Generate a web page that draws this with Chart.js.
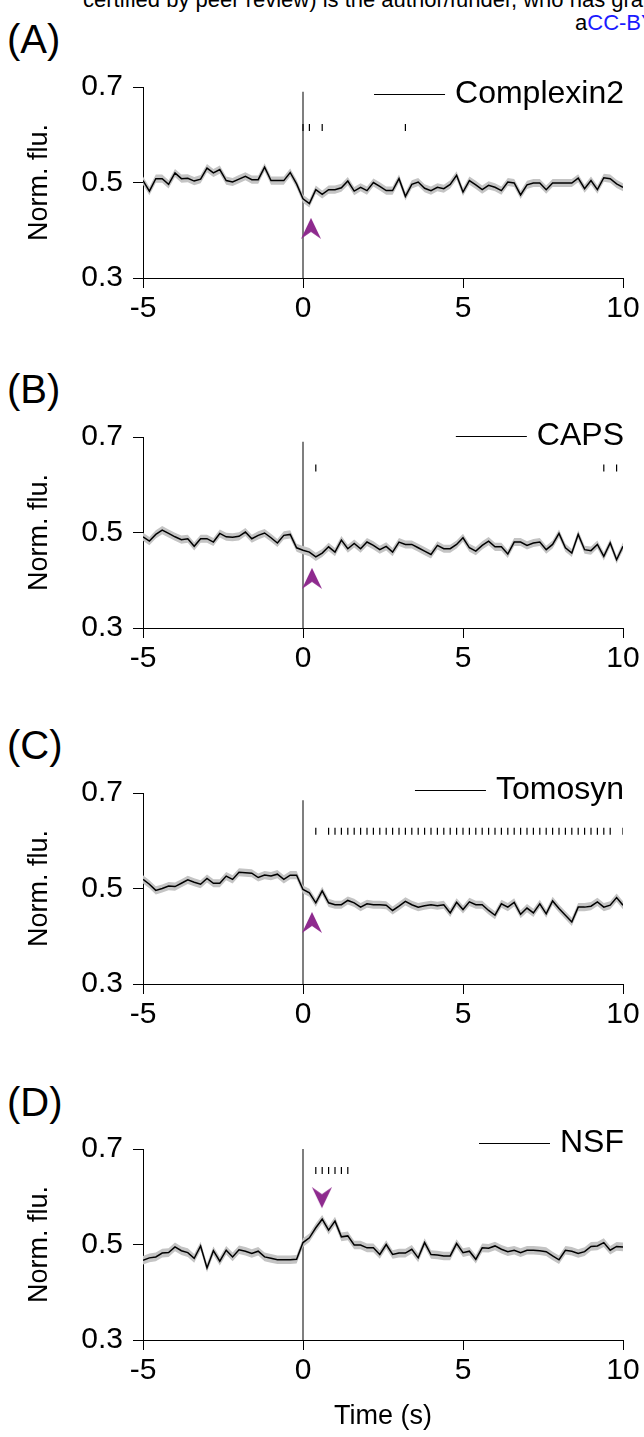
<!DOCTYPE html>
<html><head><meta charset="utf-8">
<script src="https://cdn.jsdelivr.net/npm/chart.js@4.4.0/dist/chart.umd.min.js"></script>
<style>
html,body{margin:0;padding:0;background:#fff;}
body{width:644px;height:1437px;overflow:hidden;position:relative;font-family:"Liberation Sans",Arial,sans-serif;color:#000;}
.plabel{position:absolute;left:7px;font-size:40px;line-height:40px;white-space:nowrap;}
.hdr{position:absolute;white-space:nowrap;font-size:22px;line-height:22px;}
canvas{position:absolute;left:0;}
</style></head>
<body>
<div class="hdr" style="left:83px;top:-11px;">certified by peer review) is the author/funder, who has granted bioRxiv a license</div>
<div class="hdr" style="left:575px;top:12px;">a<span style="color:#1a1aff">CC-BY 4.0 International license</span></div>
<div class="plabel" style="top:19px;">(A)</div>
<div class="plabel" style="top:369px;">(B)</div>
<div class="plabel" style="top:725px;">(C)</div>
<div class="plabel" style="top:1082px;">(D)</div>
<script>
// ---- data ----
const time = [-5,-4.8,-4.6,-4.4,-4.2,-4,-3.8,-3.6,-3.4,-3.2,-3,-2.8,-2.6,-2.4,-2.2,-2,-1.8,-1.6,-1.4,-1.2,-1,-0.8,-0.6,-0.4,-0.2,
0,0.2,0.4,0.6,0.8,1,1.2,1.4,1.6,1.8,2,2.2,2.4,2.6,2.8,3,3.2,3.4,3.6,3.8,4,4.2,4.4,4.6,4.8,5,5.2,5.4,5.6,5.8,6,6.2,6.4,6.6,6.8,7,7.2,7.4,7.6,7.8,8,8.2,8.4,8.6,8.8,9,9.2,9.4,9.6,9.8,10];

const xTicks = [-5, 0, 5, 10];
const yTicks = [0.3, 0.5, 0.7];

const meanComplexin2 = [0.504,0.482,0.508,0.508,0.496,0.520,0.508,0.509,0.503,0.507,0.530,0.520,0.527,0.504,0.501,0.507,0.513,0.506,0.506,0.532,0.504,0.504,0.504,0.521,0.497,
0.466,0.456,0.485,0.475,0.485,0.485,0.489,0.503,0.482,0.490,0.483,0.500,0.492,0.483,0.483,0.508,0.471,0.496,0.501,0.488,0.483,0.490,0.487,0.496,0.515,0.480,0.504,0.495,0.485,0.494,0.490,0.483,0.501,0.499,0.474,0.495,0.499,0.499,0.485,0.499,0.499,0.499,0.499,0.509,0.487,0.504,0.485,0.510,0.508,0.497,0.490];
const meanCAPS = [0.491,0.482,0.496,0.505,0.498,0.491,0.485,0.487,0.471,0.487,0.487,0.480,0.498,0.491,0.490,0.492,0.501,0.487,0.494,0.499,0.489,0.478,0.494,0.496,0.468,
0.463,0.459,0.449,0.457,0.470,0.459,0.484,0.466,0.477,0.466,0.480,0.473,0.464,0.471,0.459,0.480,0.475,0.475,0.468,0.461,0.454,0.473,0.466,0.466,0.475,0.489,0.468,0.461,0.473,0.482,0.470,0.470,0.455,0.480,0.480,0.473,0.478,0.480,0.464,0.475,0.498,0.468,0.457,0.496,0.464,0.462,0.475,0.450,0.478,0.443,0.471];
const meanTomosyn = [0.519,0.509,0.496,0.500,0.505,0.504,0.511,0.518,0.513,0.509,0.521,0.511,0.511,0.526,0.519,0.534,0.533,0.532,0.523,0.528,0.526,0.530,0.519,0.528,0.528,
0.498,0.491,0.470,0.495,0.470,0.466,0.466,0.475,0.470,0.461,0.468,0.466,0.466,0.465,0.454,0.463,0.473,0.466,0.461,0.464,0.466,0.464,0.466,0.449,0.471,0.456,0.472,0.466,0.466,0.454,0.444,0.468,0.461,0.471,0.446,0.459,0.449,0.468,0.447,0.474,0.458,0.444,0.430,0.461,0.461,0.463,0.472,0.461,0.465,0.481,0.465];
const meanNSF = [0.467,0.472,0.474,0.482,0.483,0.495,0.487,0.483,0.471,0.497,0.451,0.487,0.465,0.488,0.474,0.489,0.486,0.481,0.486,0.474,0.471,0.468,0.468,0.468,0.469,
0.504,0.514,0.535,0.553,0.530,0.549,0.516,0.518,0.499,0.499,0.493,0.493,0.479,0.500,0.479,0.482,0.482,0.490,0.472,0.504,0.479,0.478,0.476,0.476,0.502,0.483,0.486,0.469,0.493,0.492,0.497,0.490,0.485,0.488,0.483,0.488,0.488,0.487,0.485,0.476,0.468,0.488,0.486,0.481,0.485,0.496,0.497,0.504,0.488,0.496,0.495];

const semComplexin2 = 0.0085, semCAPS = 0.0085, semTomosyn = 0.0085, semNSF = 0.009;

const sigComplexin2 = [0, 0.2, 0.6, 3.2];
const sigCAPS = [0.4, 9.4, 9.8];
const sigTomosyn = [0.4,0.8,1.0,1.2,1.4,1.6,1.8,2.0,2.2,2.4,2.6,2.8,3.0,3.2,3.4,3.6,3.8,4.0,4.2,4.4,4.6,4.8,5.0,5.2,5.4,5.6,5.8,6.0,6.2,6.4,6.6,6.8,7.0,7.2,7.4,7.6,7.8,8.0,8.2,8.4,8.6,8.8,9.0,9.2,9.4,9.6,10.0];
const sigNSF = [0.4, 0.6, 0.8, 1.0, 1.2, 1.4];

const arrowComplexin2 = {x: 0.25, y: 0.403, dir: 'up'};
const arrowCAPS = {x: 0.28, y: 0.403, dir: 'up'};
const arrowTomosyn = {x: 0.28, y: 0.428, dir: 'up'};
const arrowNSF = {x: 0.59, y: 0.597, dir: 'down'};

// ---- drawing ----
const FONT = '"Liberation Sans", Arial, Helvetica, sans-serif';
Chart.defaults.font.family = FONT;
Chart.defaults.color = '#000';

function arrowImg(dir){
  const c = document.createElement('canvas');
  c.width = 22; c.height = 22;
  const g = c.getContext('2d');
  g.fillStyle = '#8e2a8e';
  g.beginPath();
  if (dir === 'up') {
    g.moveTo(11,0); g.lineTo(21,21); g.lineTo(11,14); g.lineTo(1,21);
  } else {
    g.moveTo(11,21); g.lineTo(21,0); g.lineTo(11,7); g.lineTo(1,0);
  }
  g.closePath(); g.fill();
  return c;
}

const legendPlugin = {
  id: 'inlineLegend',
  afterDatasetsDraw(chart, args, opts) {
    if (!opts || !opts.text) return;
    const ctx = chart.ctx, a = chart.chartArea;
    ctx.save();
    ctx.font = opts.size + 'px ' + FONT;
    ctx.fillStyle = '#000';
    ctx.textAlign = 'right';
    ctx.textBaseline = 'middle';
    const xr = a.right + opts.dx;
    const y = a.top + opts.dy;
    ctx.fillText(opts.text, xr, y);
    const tw = ctx.measureText(opts.text).width;
    ctx.beginPath();
    ctx.moveTo(xr - tw - opts.gap, y + 0.5);
    ctx.lineTo(xr - tw - opts.gap - opts.len, y + 0.5);
    ctx.lineWidth = 1.2;
    ctx.strokeStyle = '#000';
    ctx.stroke();
    ctx.restore();
  }
};

function makePanel(cfg) {
  const canvas = document.createElement('canvas');
  canvas.width = 644; canvas.height = cfg.h;
  canvas.style.top = cfg.top + 'px';
  canvas.style.width = '644px'; canvas.style.height = cfg.h + 'px';
  document.body.appendChild(canvas);
  const upper = cfg.mean.map(v => v + cfg.sem);
  const lower = cfg.mean.map(v => v - cfg.sem);
  const pts = arr => time.map((t, i) => ({x: t, y: arr[i]}));
  new Chart(canvas, {
    type: 'line',
    data: { datasets: [
      { data: pts(cfg.mean), borderColor: '#000', borderWidth: 1.5, pointRadius: 0, fill: false, tension: 0, order: 1 },
      { data: pts(upper), borderWidth: 0, borderColor: 'rgba(0,0,0,0)', backgroundColor: '#c4c4c4', pointRadius: 0, fill: '+1', tension: 0, order: 3 },
      { data: pts(lower), borderWidth: 0, borderColor: 'rgba(0,0,0,0)', pointRadius: 0, fill: false, tension: 0, order: 4 },
      { data: [{x: 0, y: 0.3}, {x: 0, y: cfg.zeroTop}], borderColor: '#555', borderWidth: 1.5, pointRadius: 0, fill: false, order: 5 },
      { data: cfg.sig.map(t => ({x: t, y: cfg.sigY})), showLine: false, pointStyle: 'line', rotation: 90, pointRadius: 3.5, pointBorderWidth: 1.2, pointBorderColor: '#000', borderColor: '#000', order: 0 },
      { data: [{x: cfg.arrow.x, y: cfg.arrow.y}], showLine: false, pointStyle: arrowImg(cfg.arrow.dir), pointRadius: 11, order: 0 }
    ]},
    options: {
      responsive: false, animation: false, devicePixelRatio: 1,
      layout: { padding: { left: 0, right: 21, top: cfg.padTop, bottom: 0 } },
      plugins: { legend: { display: false }, tooltip: { enabled: false },
        inlineLegend: { text: cfg.name, size: 32, dx: 1, dy: cfg.legDy, gap: 10, len: 71 } },
      scales: {
        x: { type: 'linear', min: -5, max: 10,
          afterBuildTicks: s => { s.ticks = xTicks.map(v => ({value: v})); },
          ticks: { autoSkip: false, maxRotation: 0, padding: 3, font: { size: 30 }, color: '#000', callback: v => String(v) },
          grid: { drawOnChartArea: false, drawTicks: true, tickLength: 10, color: '#000', tickColor: '#000', lineWidth: 1 },
          border: { display: true, color: '#000', width: 1 },
          title: { display: !!cfg.xTitle, text: cfg.xTitle || '', font: { size: 27, lineHeight: 1.2 }, color: '#000', padding: { top: 0, bottom: 17 } },
          afterFit: s => { s.height = cfg.xh; } },
        y: { type: 'linear', min: 0.3, max: 0.7,
          afterBuildTicks: s => { s.ticks = yTicks.map(v => ({value: v})); },
          ticks: { autoSkip: false, padding: 10, font: { size: 30 }, color: '#000', callback: v => v.toFixed(1) },
          grid: { drawOnChartArea: false, drawTicks: true, tickLength: 10, color: '#000', tickColor: '#000', lineWidth: 1 },
          border: { display: true, color: '#000', width: 1 },
          title: { display: true, text: 'Norm. flu.', font: { size: 27, lineHeight: 1.2 }, color: '#000', padding: { top: 23, bottom: 0 } },
          afterFit: s => { s.width = 143; } }
      }
    },
    plugins: [legendPlugin]
  });
}

const panels = [
  { name: 'Complexin2', mean: meanComplexin2, sem: semComplexin2, sig: sigComplexin2, sigY: 0.615, arrow: arrowComplexin2, zeroTop: 0.69, areaTop: 87, legDy: 7 },
  { name: 'CAPS', mean: meanCAPS, sem: semCAPS, sig: sigCAPS, sigY: 0.635, arrow: arrowCAPS, zeroTop: 0.69, areaTop: 437, legDy: -1 },
  { name: 'Tomosyn', mean: meanTomosyn, sem: semTomosyn, sig: sigTomosyn, sigY: 0.62, arrow: arrowTomosyn, zeroTop: 0.685, areaTop: 793, legDy: -3 },
  { name: 'NSF', mean: meanNSF, sem: semNSF, sig: sigNSF, sigY: 0.655, arrow: arrowNSF, zeroTop: 0.70, areaTop: 1149, legDy: -6, xTitle: 'Time (s)' }
];
panels.forEach(p => {
  const padTop = 60;
  const areaH = 191;
  const xh = p.xTitle ? 110 : 62;
  makePanel(Object.assign({}, p, { padTop, top: p.areaTop - padTop, h: padTop + areaH + xh, xh }));
});
</script>
</body></html>
